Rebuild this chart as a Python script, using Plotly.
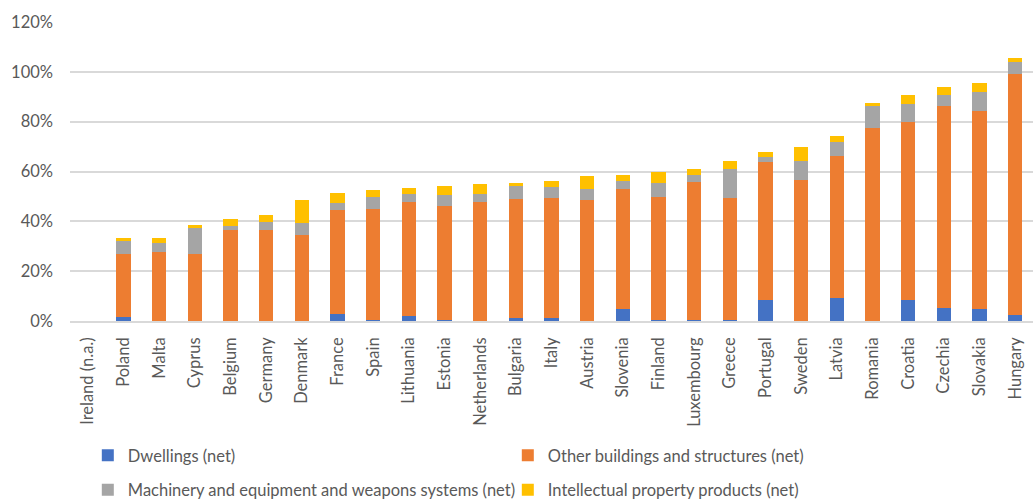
import plotly.graph_objects as go

countries = [
    "Ireland (n.a.)", "Poland", "Malta", "Cyprus", "Belgium", "Germany", "Denmark",
    "France", "Spain", "Lithuania", "Estonia", "Netherlands", "Bulgaria", "Italy",
    "Austria", "Slovenia", "Finland", "Luxembourg", "Greece", "Portugal", "Sweden",
    "Latvia", "Romania", "Croatia", "Czechia", "Slovakia", "Hungary",
]

# Net capital stock components, % of GDP (Ireland not available)
dwellings = [None, 1.6, 0.0, 0.0, 0.0, 0.0, 0.0, 2.7, 0.4, 2.0, 0.5, 0.2, 1.2, 1.2,
             0.2, 4.7, 0.4, 0.3, 0.4, 8.6, 0.0, 9.2, 0.0, 8.6, 5.1, 4.7, 2.4]
other_buildings = [None, 25.4, 27.6, 26.8, 36.5, 36.5, 34.4, 41.9, 44.6, 45.7, 45.6, 47.7,
                   47.7, 48.1, 48.3, 48.1, 49.4, 55.5, 48.9, 55.4, 56.4, 57.1, 77.3, 71.3,
                   81.1, 79.5, 96.6]
machinery = [None, 5.0, 3.7, 10.4, 1.7, 3.4, 5.1, 2.7, 4.6, 3.1, 4.4, 2.9, 5.5, 4.3,
             4.5, 3.3, 5.6, 2.7, 11.9, 1.9, 8.0, 5.7, 8.9, 7.0, 4.4, 7.6, 4.9]
ip_products = [None, 1.5, 2.0, 1.2, 2.9, 2.8, 9.0, 4.0, 2.8, 2.5, 3.5, 4.0, 0.8, 2.6,
               5.1, 2.5, 4.3, 2.4, 2.9, 1.9, 5.5, 2.2, 1.1, 3.9, 3.5, 3.8, 1.7]

# (name, values, colour, legend row)
series = [
    ("Dwellings (net)", dwellings, "#4472C4", "legend"),
    ("Other buildings and structures (net)", other_buildings, "#ED7D31", "legend"),
    ("Machinery and equipment and weapons systems (net)", machinery, "#A5A5A5", "legend2"),
    ("Intellectual property products (net)", ip_products, "#FFC000", "legend2"),
]

y_ticks = [0, 20, 40, 60, 80, 100, 120]
y_tick_labels = [f"{v}%" for v in y_ticks]

FONT = "Lato"
SIZE = 16.5
TEXT_COLOR = "#595959"
GRID_COLOR = "#D9D9D9"

fig = go.Figure()
for name, values, color, legend_id in series:
    fig.add_trace(go.Bar(
        x=countries, y=values, name=name, legend=legend_id,
        marker=dict(color=color, line=dict(width=0)),
    ))

legend_style = dict(
    orientation="h",
    xref="container", yref="container",
    xanchor="left", yanchor="top",
    entrywidth=375, entrywidthmode="pixels",
    itemwidth=30, traceorder="normal",
    font=dict(family=FONT, size=SIZE, color=TEXT_COLOR),
    bgcolor="rgba(0,0,0,0)",
)

fig.update_layout(
    width=1033, height=499,
    barmode="stack", bargap=0.6,
    margin=dict(l=70, r=0, t=22, b=178),
    paper_bgcolor="white", plot_bgcolor="white",
    font=dict(family=FONT, size=SIZE, color=TEXT_COLOR),
    showlegend=True,
    legend=dict(legend_style, x=0.085, y=0.122),
    legend2=dict(legend_style, x=0.085, y=0.053),
)

fig.update_xaxes(
    type="category", tickangle=-90,
    showgrid=False, showline=True, linecolor=GRID_COLOR, linewidth=1.5,
    ticks="", ticklabelstandoff=8,
    tickfont=dict(family=FONT, size=SIZE, color=TEXT_COLOR),
)
fig.update_yaxes(
    range=[0, 120], tickvals=y_ticks, ticktext=y_tick_labels,
    showgrid=True, gridcolor=GRID_COLOR, gridwidth=1.5,
    zeroline=False, showline=False, ticks="", ticklabelstandoff=16,
    tickfont=dict(family=FONT, size=SIZE, color=TEXT_COLOR),
)

fig.write_html("out.html")
